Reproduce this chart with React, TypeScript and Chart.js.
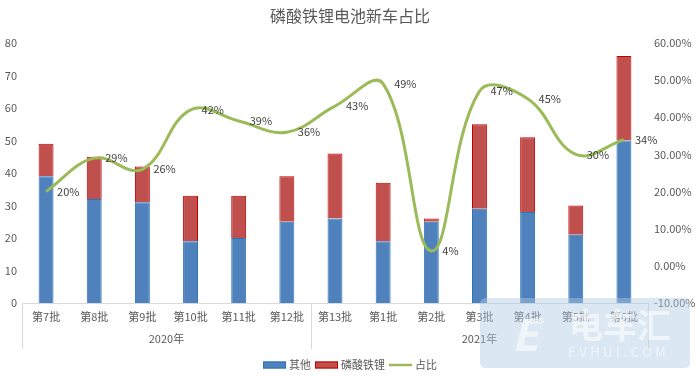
import React, { useEffect, useRef } from 'react';
import { Chart, registerables } from 'chart.js';

Chart.register(...registerables);

const chartTitle = '磷酸铁锂电池新车占比';
const categories = ['第7批', '第8批', '第9批', '第10批', '第11批', '第12批', '第13批', '第1批', '第2批', '第3批', '第4批', '第5批', '第6批'];
const yearGroups = ['2020年', '2021年'];
const yearGroupSizes = [6, 7];
const otherValues = [39, 32, 31, 19, 20, 25, 26, 19, 25, 29, 28, 21, 50];
const lfpValues = [10, 13, 11, 14, 13, 14, 20, 18, 1, 26, 23, 9, 26];
const sharePercent = [20, 29, 26, 42, 39, 36, 43, 49, 4, 47, 45, 30, 34];
const seriesNames = ['其他', '磷酸铁锂', '占比'];

const FONT = "'Noto Sans CJK SC', 'Noto Sans', sans-serif";
const TEXT = '#595959';
const BLUE = '#4F81BD';
const BLUE_BORDER = '#2E75B6';
const RED = '#C0504D';
const RED_BORDER = '#C00000';
const GREEN = '#9BBB59';
const AXIS_LINE = '#D9D9D9';

const decorPlugin = {
  id: 'decor',
  afterDatasetsDraw(chart: any) {
    const ctx = chart.ctx;
    const meta = chart.getDatasetMeta(2);
    ctx.save();
    ctx.font = `11px ${FONT}`;
    ctx.fillStyle = '#404040';
    ctx.textAlign = 'left';
    ctx.textBaseline = 'middle';
    meta.data.forEach((pt: any, i: number) => {
      ctx.fillText(`${sharePercent[i]}%`, pt.x + 11, pt.y);
    });
    ctx.restore();
  },
  afterDraw(chart: any) {
    const ctx = chart.ctx;
    const xs = chart.scales.x;
    const area = chart.chartArea;
    const step = (xs.right - xs.left) / categories.length;
    ctx.save();
    // title
    ctx.font = `16px ${FONT}`;
    ctx.fillStyle = TEXT;
    ctx.textAlign = 'center';
    ctx.textBaseline = 'middle';
    ctx.fillText(chartTitle, chart.width / 2, 16);

    // group separators and labels
    ctx.strokeStyle = AXIS_LINE;
    ctx.lineWidth = 1;
    let start = 0;
    const bounds: number[] = [0];
    yearGroupSizes.forEach((n) => { start += n; bounds.push(start); });
    bounds.forEach((b) => {
      const x = Math.round(xs.left + b * step) + 0.5;
      ctx.beginPath();
      ctx.moveTo(x, area.bottom);
      ctx.lineTo(x, area.bottom + 46);
      ctx.stroke();
    });
    ctx.font = `11px ${FONT}`;
    ctx.fillStyle = TEXT;
    yearGroups.forEach((g, i) => {
      const cx = xs.left + ((bounds[i] + bounds[i + 1]) / 2) * step;
      ctx.fillText(g, cx, area.bottom + 36);
    });

    // legend
    const items = [
      { name: seriesNames[0], type: 'box', fill: BLUE, stroke: BLUE_BORDER },
      { name: seriesNames[1], type: 'box', fill: RED, stroke: RED_BORDER },
      { name: seriesNames[2], type: 'line', fill: GREEN, stroke: GREEN },
    ];
    const markW = 23;
    const gapAfterMark = 3;
    const gapItems = 4;
    let total = 0;
    const widths = items.map((it) => ctx.measureText(it.name).width);
    widths.forEach((w) => { total += markW + gapAfterMark + w + gapItems; });
    total -= gapItems;
    let lx = chart.width / 2 - total / 2;
    const ly = 365;
    ctx.textAlign = 'left';
    items.forEach((it, i) => {
      if (it.type === 'box') {
        ctx.fillStyle = it.fill;
        ctx.fillRect(lx, ly - 3.5, markW, 7);
        ctx.strokeStyle = it.stroke;
        ctx.strokeRect(lx + 0.5, ly - 3, markW - 1, 6);
      } else {
        ctx.strokeStyle = it.stroke;
        ctx.lineWidth = 2.5;
        ctx.beginPath();
        ctx.moveTo(lx, ly);
        ctx.lineTo(lx + markW, ly);
        ctx.stroke();
        ctx.lineWidth = 1;
      }
      ctx.fillStyle = TEXT;
      ctx.fillText(it.name, lx + markW + gapAfterMark, ly);
      lx += markW + gapAfterMark + widths[i] + gapItems;
    });

    // watermark
    const wx = 480, wy = 298, ww = 210, wh = 70, r = 6;
    ctx.fillStyle = 'rgba(176, 202, 228, 0.45)';
    ctx.beginPath();
    ctx.moveTo(wx + r, wy);
    ctx.lineTo(wx + ww - r, wy);
    ctx.quadraticCurveTo(wx + ww, wy, wx + ww, wy + r);
    ctx.lineTo(wx + ww, wy + wh - r);
    ctx.quadraticCurveTo(wx + ww, wy + wh, wx + ww - r, wy + wh);
    ctx.lineTo(wx + r, wy + wh);
    ctx.quadraticCurveTo(wx, wy + wh, wx, wy + wh - r);
    ctx.lineTo(wx, wy + r);
    ctx.quadraticCurveTo(wx, wy, wx + r, wy);
    ctx.closePath();
    ctx.fill();
    ctx.fillStyle = 'rgba(255,255,255,0.6)';
    ctx.font = `bold italic 44px ${FONT}`;
    ctx.textAlign = 'center';
    ctx.fillText('E', 525, 334);
    ctx.font = `bold 34px ${FONT}`;
    ctx.fillText('电车汇', 620, 325);
    ctx.font = `13px ${FONT}`;
    const evText = 'EVHUI.COM';
    let ex = 568;
    ctx.textAlign = 'left';
    for (const ch of evText) {
      ctx.fillText(ch, ex, 352);
      ex += ctx.measureText(ch).width + 3.5;
    }
    ctx.restore();
  },
};

export default function App() {
  const canvasRef = useRef<HTMLCanvasElement | null>(null);

  useEffect(() => {
    if (!canvasRef.current) return;
    const chart = new Chart(canvasRef.current, {
      type: 'bar',
      data: {
        labels: categories,
        datasets: [
          {
            type: 'bar',
            label: seriesNames[0],
            data: otherValues,
            backgroundColor: BLUE,
            borderColor: BLUE_BORDER,
            borderWidth: 1,
            stack: 's',
            yAxisID: 'y',
            order: 2,
            categoryPercentage: 1,
            barPercentage: 0.31,
          },
          {
            type: 'bar',
            label: seriesNames[1],
            data: lfpValues,
            backgroundColor: RED,
            borderColor: RED_BORDER,
            borderWidth: 1,
            stack: 's',
            yAxisID: 'y',
            order: 2,
            categoryPercentage: 1,
            barPercentage: 0.31,
          },
          {
            type: 'line',
            label: seriesNames[2],
            data: sharePercent,
            borderColor: GREEN,
            borderWidth: 3,
            pointRadius: 0,
            tension: 0.4,
            fill: false,
            yAxisID: 'y1',
            order: 1,
          },
        ] as any,
      },
      options: {
        responsive: false,
        animation: false,
        devicePixelRatio: 1,
        layout: { padding: { top: 43, left: 0, right: 0, bottom: 0 } },
        plugins: {
          legend: { display: false },
          title: { display: false },
          tooltip: { enabled: false },
        },
        scales: {
          x: {
            stacked: true,
            grid: { display: false, drawTicks: false },
            border: { display: true, color: AXIS_LINE },
            ticks: {
              color: TEXT,
              font: { family: FONT, size: 11 },
              padding: 7,
              maxRotation: 0,
              autoSkip: false,
            },
            afterFit: (s: any) => { s.height = 76; },
          },
          y: {
            stacked: true,
            position: 'left',
            min: 0,
            max: 80,
            grid: { display: false, drawTicks: false },
            border: { display: false },
            ticks: {
              stepSize: 10,
              color: TEXT,
              font: { family: FONT, size: 11 },
              padding: 5,
            },
            afterFit: (s: any) => { s.width = 22; },
          },
          y1: {
            position: 'right',
            min: -10,
            max: 60,
            grid: { display: false, drawTicks: false },
            border: { display: false },
            ticks: {
              stepSize: 10,
              color: TEXT,
              font: { family: FONT, size: 11 },
              padding: 6,
              callback: (v: any) => `${Number(v).toFixed(2)}%`,
            },
            afterFit: (s: any) => { s.width = 52; },
          },
        },
      } as any,
      plugins: [decorPlugin],
    });
    return () => chart.destroy();
  }, []);

  return (
    <div style={{ position: 'fixed', left: 0, top: 0, width: 700, height: 379, background: '#fff' }}>
      <canvas ref={canvasRef} width={700} height={379} style={{ display: 'block' }} />
    </div>
  );
}
